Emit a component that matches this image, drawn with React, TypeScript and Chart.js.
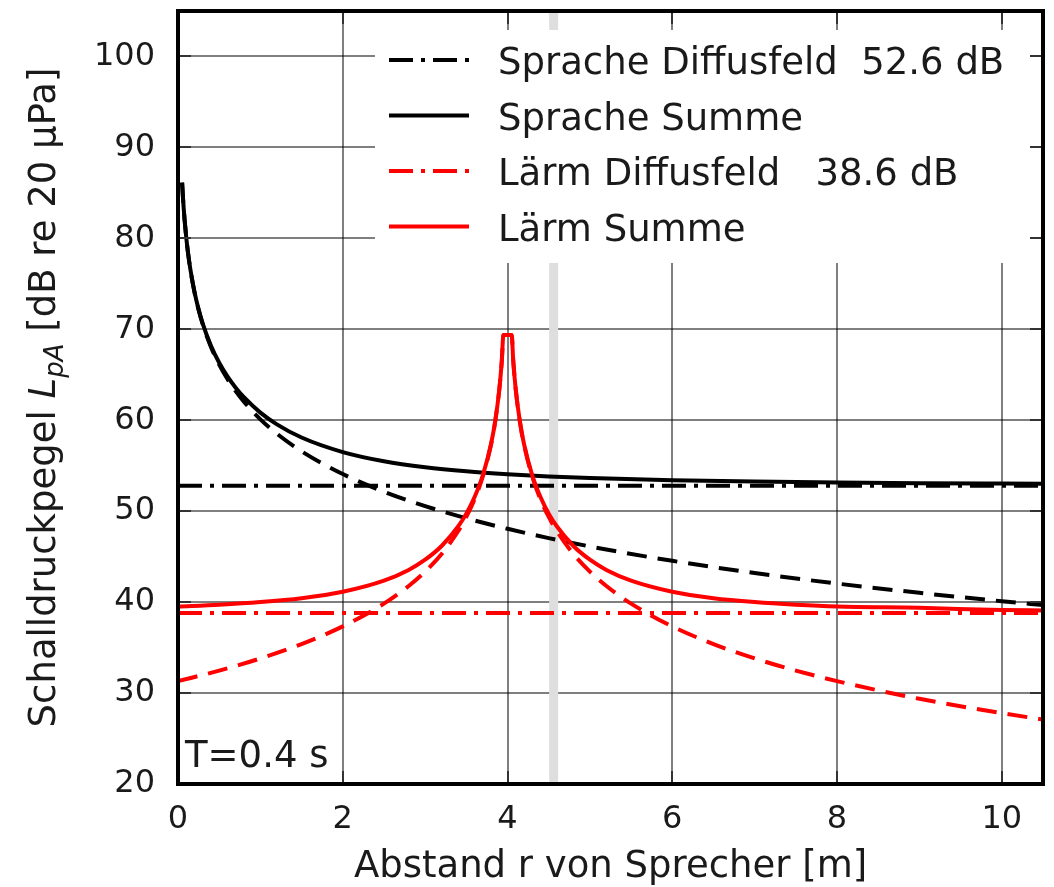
import React, { useEffect, useRef } from "react";
import { Chart, registerables } from "chart.js";

Chart.register(...registerables);

// ---- axis setup ----
const X_TICKS = [0, 2, 4, 6, 8, 10];
const Y_TICKS = [20, 30, 40, 50, 60, 70, 80, 90, 100];
const X_MIN = 0;
const X_MAX = 10.5;
const Y_MIN = 20;
const Y_MAX = 105;
const BAND_X = 4.56; // light grey vertical marker

// ---- texts ----
const X_TITLE = "Abstand r von Sprecher [m]";
const Y_TITLE_PARTS = ["Schalldruckpegel ", "L", "pA", " [dB re 20 μPa]"];
const NOTE = "T=0.4 s";
const LEGEND_LABELS = [
  "Sprache Diffusfeld  52.6 dB",
  "Sprache Summe",
  "Lärm Diffusfeld   38.6 dB",
  "Lärm Summe",
];

// ---- data ----
const diffuseR = [0, 10.5];
const speechDiffuse = [52.8, 52.8];
const noiseDiffuse = [38.8, 38.8];

const speechR = [0.05, 0.06, 0.07, 0.08, 0.1, 0.12, 0.15, 0.2, 0.25, 0.3, 0.4, 0.5, 0.6, 0.7, 0.8, 1.0, 1.2, 1.5, 2, 2.5, 3, 3.5, 4, 4.5, 5, 6, 7, 8, 9, 10, 10.5];
const speechDirect = [86.12, 84.54, 83.2, 82.04, 80.1, 78.52, 76.58, 74.08, 72.14, 70.56, 68.06, 66.12, 64.54, 63.2, 62.04, 60.1, 58.52, 56.58, 54.08, 52.14, 50.56, 49.22, 48.06, 47.04, 46.12, 44.54, 43.2, 42.04, 41.02, 40.1, 39.68];
const speechSum = [86.12, 84.54, 83.2, 82.05, 80.11, 78.53, 76.6, 74.11, 72.19, 70.63, 68.19, 66.32, 64.82, 63.58, 62.53, 60.84, 59.55, 58.1, 56.5, 55.49, 54.83, 54.38, 54.06, 53.82, 53.65, 53.4, 53.25, 53.15, 53.08, 53.03, 53.01];

const noiseR = [0, 0.5, 1, 1.5, 2, 2.5, 2.8, 3, 3.2, 3.4, 3.5, 3.6, 3.7, 3.8, 3.85, 3.9, 3.93, 3.95, 4.05, 4.07, 4.1, 4.15, 4.2, 4.3, 4.4, 4.5, 4.6, 4.8, 5, 5.2, 5.5, 6, 6.5, 7, 7.5, 8, 9, 10, 10.5];
const noiseDirect = [31.31, 32.47, 33.81, 35.39, 37.33, 39.83, 41.77, 43.35, 45.29, 47.79, 49.37, 51.31, 53.81, 57.33, 59.83, 63.35, 66.45, 69.37, 69.37, 66.45, 63.35, 59.83, 57.33, 53.81, 51.31, 49.37, 47.79, 45.29, 43.35, 41.77, 39.83, 37.33, 35.39, 33.81, 32.47, 31.31, 29.37, 27.79, 27.09];
const noiseSum = [39.51, 39.71, 40.0, 40.43, 41.14, 42.36, 43.54, 44.66, 46.17, 48.31, 49.73, 51.55, 53.95, 57.39, 59.87, 63.37, 66.46, 69.37, 69.37, 66.46, 63.37, 59.87, 57.39, 53.95, 51.55, 49.73, 48.31, 46.17, 44.66, 43.54, 42.36, 41.14, 40.43, 40.0, 39.71, 39.51, 39.37, 39.13, 39.08];

const FONT = "'DejaVu Sans', 'Liberation Sans', sans-serif";
const DASH = [20, 11];
const DASH_DOT = [24, 8, 4, 8];
const GRID = "rgba(0,0,0,0.5)";

const pts = (xs: number[], ys: number[]) => xs.map((x, i) => ({ x, y: ys[i] }));

const overlayPlugin = {
  id: "overlay",
  beforeDatasetsDraw(chart: any) {
    const { ctx, chartArea: a, scales } = chart;
    const px = scales.x.getPixelForValue(BAND_X);
    ctx.save();
    ctx.fillStyle = "#dedede";
    ctx.fillRect(px - 4.5, a.top, 9, a.bottom - a.top);
    ctx.restore();
  },
  afterDatasetsDraw(chart: any) {
    const { ctx, chartArea: a, scales } = chart;
    ctx.save();
    // legend box
    const lx = a.right - 668;
    const ly = a.top + 19;
    ctx.fillStyle = "#ffffff";
    ctx.fillRect(lx, ly, 659, 233);
    const rowGap = 55.5;
    LEGEND_LABELS.forEach((label, i) => {
      const ds = chart.data.datasets.find((d: any) => d.label === label);
      if (!ds) return;
      const ry = a.top + 49 + i * rowGap;
      ctx.beginPath();
      ctx.strokeStyle = ds.borderColor;
      ctx.lineWidth = ds.borderWidth;
      ctx.setLineDash(ds.borderDash || []);
      ctx.lineCap = "butt";
      ctx.moveTo(lx + 14, ry);
      ctx.lineTo(lx + 94, ry);
      ctx.stroke();
      ctx.setLineDash([]);
      ctx.fillStyle = "#1a1a1a";
      ctx.font = `37px ${FONT}`;
      ctx.textBaseline = "alphabetic";
      ctx.textAlign = "left";
      ctx.fillText(label, lx + 123, ry + 14);
    });
    // note
    ctx.fillStyle = "#1a1a1a";
    ctx.font = `37px ${FONT}`;
    ctx.textAlign = "left";
    ctx.textBaseline = "alphabetic";
    ctx.fillText(NOTE, a.left + 7, a.bottom - 17);
    // inward ticks
    ctx.strokeStyle = "#333333";
    ctx.lineWidth = 2;
    const tl = 13;
    X_TICKS.forEach((v) => {
      const p = Math.round(scales.x.getPixelForValue(v));
      ctx.beginPath();
      ctx.moveTo(p, a.bottom);
      ctx.lineTo(p, a.bottom - tl);
      ctx.moveTo(p, a.top);
      ctx.lineTo(p, a.top + tl);
      ctx.stroke();
    });
    Y_TICKS.forEach((v) => {
      const p = Math.round(scales.y.getPixelForValue(v));
      ctx.beginPath();
      ctx.moveTo(a.left, p);
      ctx.lineTo(a.left + tl, p);
      ctx.moveTo(a.right, p);
      ctx.lineTo(a.right - tl, p);
      ctx.stroke();
    });
    // frame
    ctx.strokeStyle = "#000000";
    ctx.lineWidth = 4;
    ctx.strokeRect(a.left, a.top, a.right - a.left, a.bottom - a.top);
    ctx.restore();
  },
  afterDraw(chart: any) {
    const { ctx, chartArea: a } = chart;
    ctx.save();
    const cy = (a.top + a.bottom) / 2;
    ctx.translate(55, cy);
    ctx.rotate(-Math.PI / 2);
    ctx.fillStyle = "#1a1a1a";
    ctx.textBaseline = "alphabetic";
    ctx.textAlign = "left";
    const normal = `37px ${FONT}`;
    const italic = `italic 37px ${FONT}`;
    const sub = `italic 26px ${FONT}`;
    const fonts = [normal, italic, sub, normal];
    const widths = Y_TITLE_PARTS.map((t, i) => {
      ctx.font = fonts[i];
      return ctx.measureText(t).width;
    });
    const total = widths.reduce((s, w) => s + w, 0);
    let x = -total / 2;
    Y_TITLE_PARTS.forEach((t, i) => {
      ctx.font = fonts[i];
      ctx.fillText(t, x, i === 2 ? 8 : 0);
      x += widths[i];
    });
    ctx.restore();
  },
};

export default function App() {
  const ref = useRef<HTMLCanvasElement | null>(null);

  useEffect(() => {
    if (!ref.current) return;
    Chart.defaults.font.family = FONT;
    const chart = new Chart(ref.current, {
      type: "line",
      data: {
        datasets: [
          {
            label: LEGEND_LABELS[3],
            data: pts(noiseR, noiseSum),
            borderColor: "#ff0000",
            borderWidth: 4,
            cubicInterpolationMode: "monotone",
            order: 0,
          },
          {
            label: "Lärm Direktfeld",
            data: pts(noiseR, noiseDirect),
            borderColor: "#ff0000",
            borderWidth: 4,
            borderDash: DASH,
            cubicInterpolationMode: "monotone",
            order: 1,
          },
          {
            label: LEGEND_LABELS[2],
            data: pts(diffuseR, noiseDiffuse),
            borderColor: "#ff0000",
            borderWidth: 4,
            borderDash: DASH_DOT,
            order: 2,
          },
          {
            label: LEGEND_LABELS[1],
            data: pts(speechR, speechSum),
            borderColor: "#000000",
            borderWidth: 4,
            cubicInterpolationMode: "monotone",
            order: 3,
          },
          {
            label: "Sprache Direktfeld",
            data: pts(speechR, speechDirect),
            borderColor: "#000000",
            borderWidth: 4,
            borderDash: DASH,
            cubicInterpolationMode: "monotone",
            order: 4,
          },
          {
            label: LEGEND_LABELS[0],
            data: pts(diffuseR, speechDiffuse),
            borderColor: "#000000",
            borderWidth: 4,
            borderDash: DASH_DOT,
            order: 5,
          },
        ],
      },
      options: {
        animation: false,
        responsive: false,
        events: [],
        elements: {
          point: { radius: 0 },
          line: { borderCapStyle: "butt", tension: 0 },
        },
        layout: { padding: { top: 11, right: 11, bottom: 0, left: 0 } },
        plugins: {
          legend: { display: false },
          tooltip: { enabled: false },
        },
        scales: {
          x: {
            type: "linear",
            min: X_MIN,
            max: X_MAX,
            afterBuildTicks: (s: any) => {
              s.ticks = X_TICKS.map((v) => ({ value: v }));
            },
            afterFit: (s: any) => {
              s.height = 103;
              s.paddingLeft = 0;
              s.paddingRight = 0;
              s.paddingTop = 0;
              s.paddingBottom = 0;
            },
            border: { display: false },
            grid: { color: GRID, lineWidth: 2, drawTicks: false },
            ticks: {
              color: "#1a1a1a",
              font: { size: 32, family: FONT },
              padding: 16,
              maxRotation: 0,
              autoSkip: false,
            },
            title: {
              display: true,
              text: X_TITLE,
              color: "#1a1a1a",
              font: { size: 37, family: FONT, lineHeight: 1 },
              padding: { top: 0, bottom: 1 },
            },
          },
          y: {
            type: "linear",
            min: Y_MIN,
            max: Y_MAX,
            afterBuildTicks: (s: any) => {
              s.ticks = Y_TICKS.map((v) => ({ value: v }));
            },
            afterFit: (s: any) => {
              s.width = 178;
              s.paddingLeft = 0;
              s.paddingRight = 0;
              s.paddingTop = 0;
              s.paddingBottom = 0;
            },
            border: { display: false },
            grid: { color: GRID, lineWidth: 2, drawTicks: false },
            ticks: {
              color: "#1a1a1a",
              font: { size: 32, family: FONT },
              padding: 23,
              autoSkip: false,
            },
          },
        },
      },
      plugins: [overlayPlugin],
    } as any);
    return () => chart.destroy();
  }, []);

  return (
    <div style={{ position: "fixed", left: 0, top: 0, width: 1054, height: 887, background: "#fff" }}>
      <canvas ref={ref} width={1054} height={887} style={{ display: "block" }} />
    </div>
  );
}
